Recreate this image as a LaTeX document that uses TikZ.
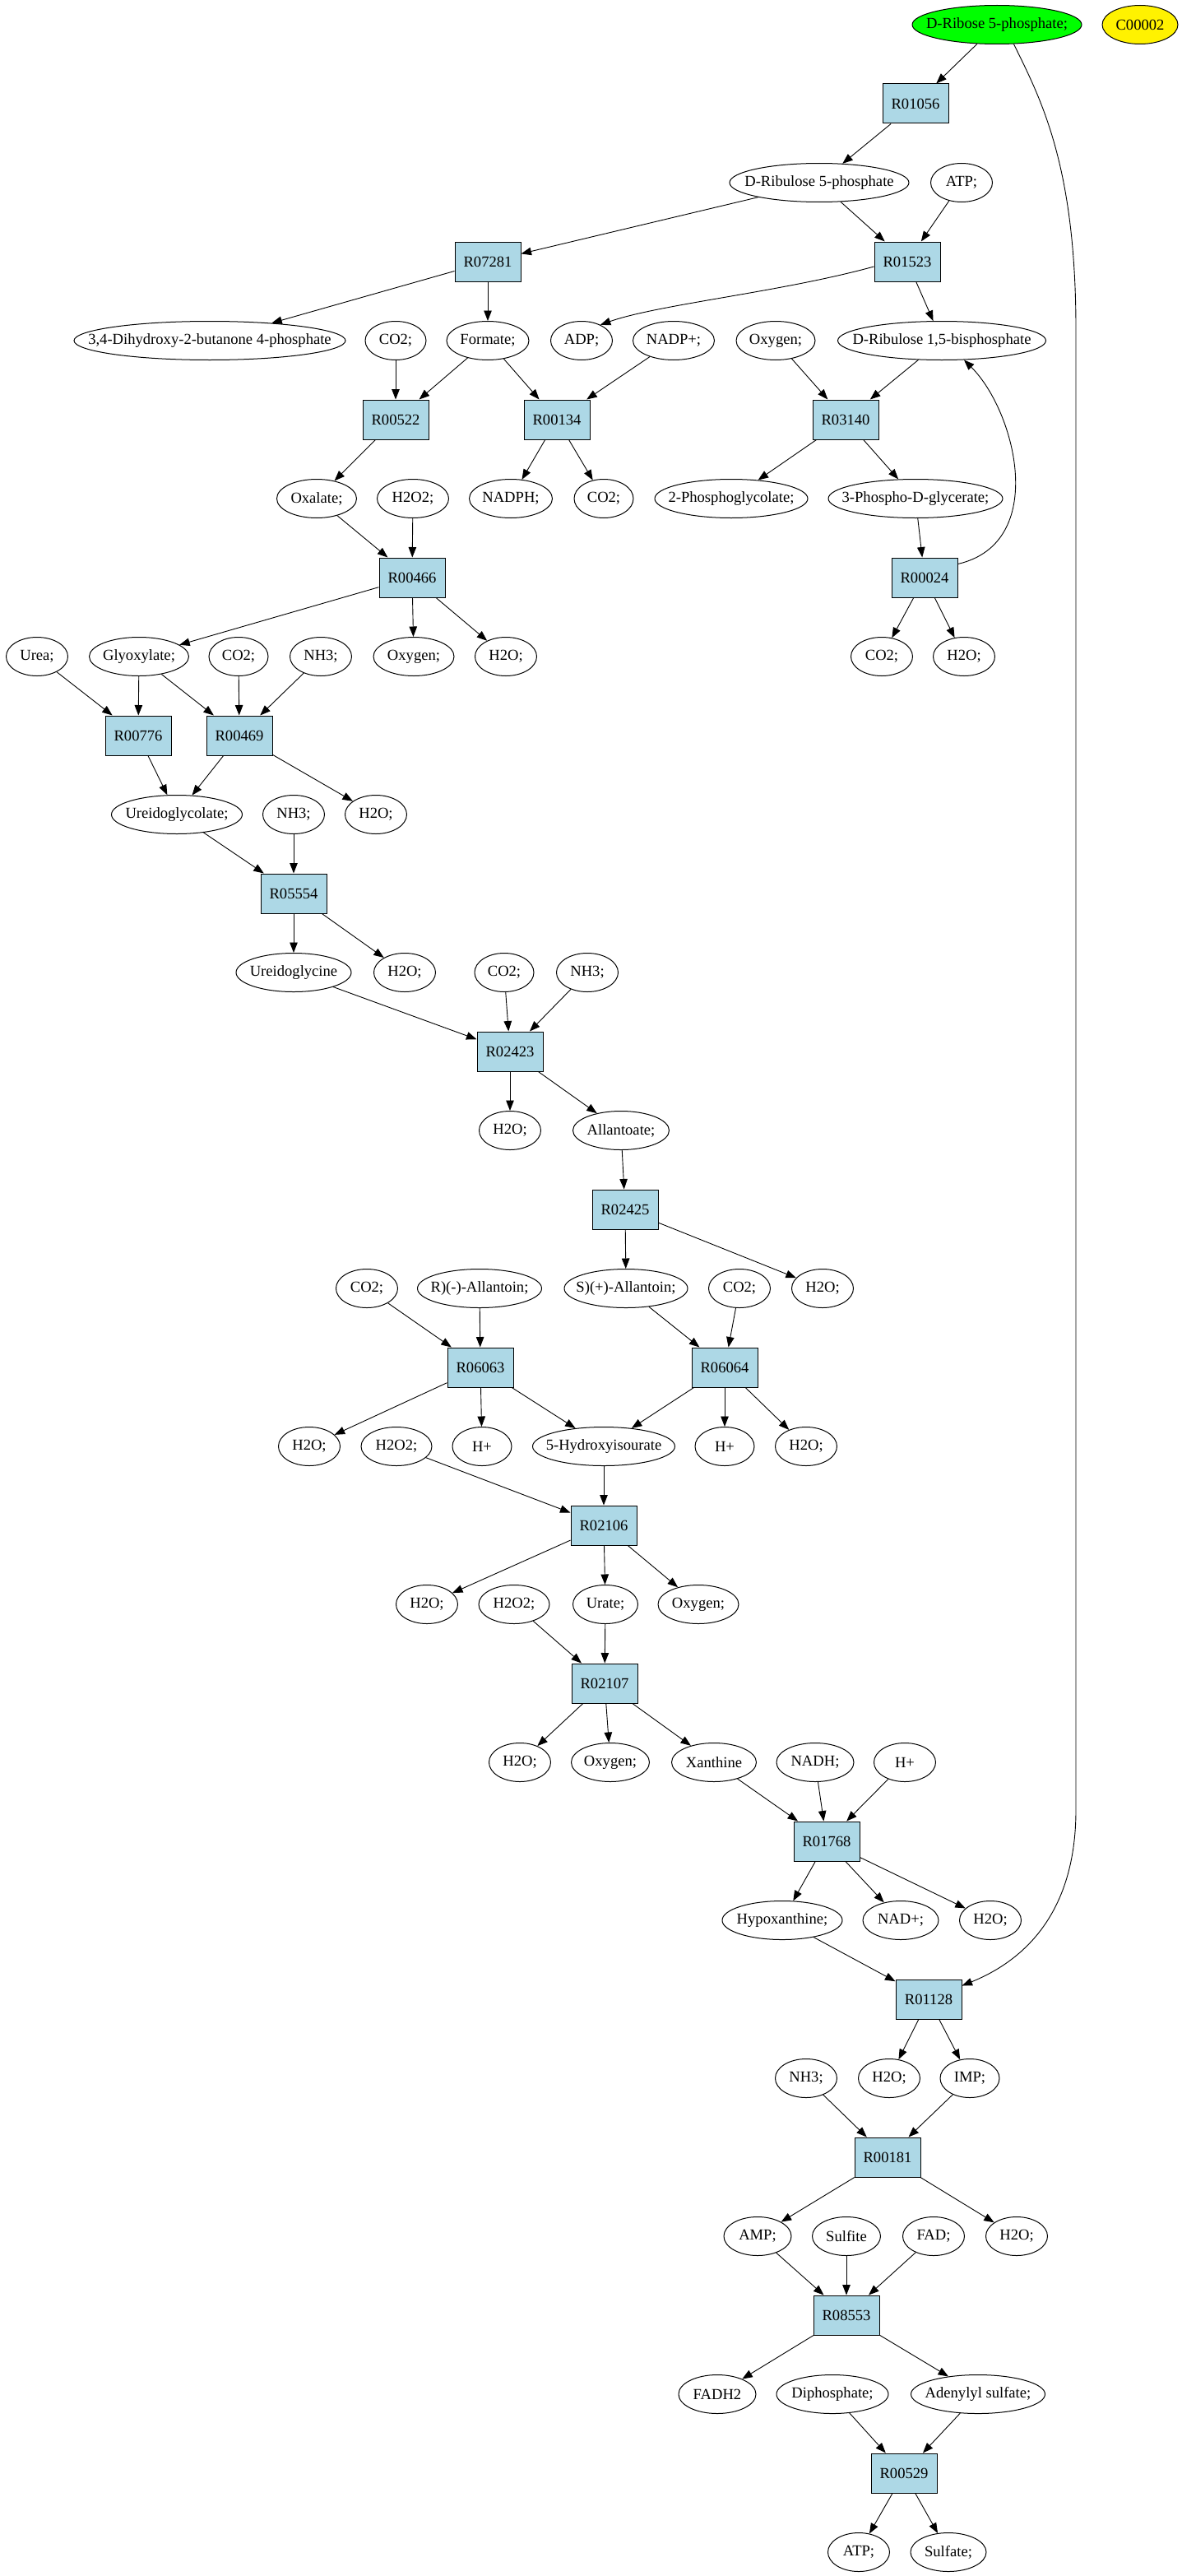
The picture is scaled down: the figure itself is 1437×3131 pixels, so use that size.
\documentclass[tikz,border=0pt]{standalone}
\usepackage{fontspec}
\setmainfont{Liberation Serif}
\usetikzlibrary{shapes.geometric,arrows.meta}
\definecolor{lightblue}{RGB}{173,216,230}
\begin{document}
\begin{tikzpicture}[x=1pt,y=-1pt,
 every node/.style={font=\fontsize{18.6}{22}\selectfont},
 met/.style={ellipse, draw=black, line width=1pt, inner sep=0pt, minimum height=47pt, minimum width=#1,
   execute at begin node={\hbox to 0pt\bgroup\hss}, execute at end node={\hss\egroup}},
 met/.default=75pt,
 rxn/.style={rectangle, draw=black, fill=lightblue, line width=1pt, minimum width=80pt, minimum height=48pt, inner sep=0pt},
 arr/.style={-{Triangle[length=12.5pt,width=9.5pt]}, line width=0.9pt}
]
\fill[white] (0,0) rectangle (1437,3131);
\useasboundingbox (0,0) rectangle (1437,3131);

\node[met=206pt, fill=green] (drib) at (1212,30) {D-Ribose 5-phosphate;};
\node[met=92pt, fill=yellow] (c2) at (1386,30) {C00002};
\node[rxn] (r01056) at (1113,126) {R01056};
\node[met=218pt] (dru5p) at (996,222) {D-Ribulose 5-phosphate};
\node[met] (atp1) at (1169,222) {ATP;};
\node[rxn] (r07281) at (593,318) {R07281};
\node[rxn] (r01523) at (1103,318) {R01523};
\node[met=330pt] (dhbp) at (255,414) {3,4-Dihydroxy-2-butanone 4-phosphate};
\node[met=74pt] (co2a) at (481,414) {CO2;};
\node[met=100pt] (form) at (593,414) {Formate;};
\node[met] (adp) at (707,414) {ADP;};
\node[met=99pt] (nadpp) at (819,414) {NADP+;};
\node[met=96pt] (oxy1) at (943,414) {Oxygen;};
\node[met=253pt] (drbp) at (1145,414) {D-Ribulose 1,5-bisphosphate};
\node[rxn] (r00522) at (481,510) {R00522};
\node[rxn] (r00134) at (677,510) {R00134};
\node[rxn] (r03140) at (1028,510) {R03140};
\node[met=97pt] (oxal) at (385,606) {Oxalate;};
\node[met=87pt] (h2o2a) at (502,606) {H2O2;};
\node[met=101pt] (nadph) at (621,606) {NADPH;};
\node[met=72pt] (co2b) at (734,606) {CO2;};
\node[met=186pt] (pglyc) at (889,606) {2-Phosphoglycolate;};
\node[met=212pt] (pgly) at (1113,606) {3-Phospho-D-glycerate;};
\node[rxn] (r00466) at (501,702) {R00466};
\node[rxn] (r00024) at (1124,702) {R00024};
\node[met] (urea) at (45,798) {Urea;};
\node[met=121pt] (glyox) at (169,798) {Glyoxylate;};
\node[met=72pt] (co2c) at (290,798) {CO2;};
\node[met] (nh3a) at (390,798) {NH3;};
\node[met=98pt] (oxy2) at (503,798) {Oxygen;};
\node[met] (h2oa) at (615,798) {H2O;};
\node[met] (co2d) at (1072,798) {CO2;};
\node[met] (h2ob) at (1172,798) {H2O;};
\node[rxn] (r00776) at (168,894) {R00776};
\node[rxn] (r00469) at (291,894) {R00469};
\node[met=159pt] (ugl) at (215,990) {Ureidoglycolate;};
\node[met] (nh3b) at (357,990) {NH3;};
\node[met] (h2oc) at (457,990) {H2O;};
\node[rxn] (r05554) at (357,1086) {R05554};
\node[met=140pt] (ugly) at (357,1182) {Ureidoglycine};
\node[met] (h2od) at (492,1182) {H2O;};
\node[met=72pt] (co2e) at (613,1182) {CO2;};
\node[met] (nh3c) at (714,1182) {NH3;};
\node[rxn] (r02423) at (620,1278) {R02423};
\node[met] (h2oe) at (620,1374) {H2O;};
\node[met=117pt] (allan) at (755,1374) {Allantoate;};
\node[rxn] (r02425) at (760,1470) {R02425};
\node[met] (co2f) at (446,1566) {CO2;};
\node[met=151pt] (rall) at (583,1566) {R)(-)-Allantoin;};
\node[met=150pt] (sall) at (761,1566) {S)(+)-Allantoin;};
\node[met] (co2g) at (899,1566) {CO2;};
\node[met] (h2of) at (1000,1566) {H2O;};
\node[rxn] (r06063) at (584,1662) {R06063};
\node[rxn] (r06064) at (881,1662) {R06064};
\node[met] (h2og) at (376,1758) {H2O;};
\node[met=86pt] (h2o2b) at (482,1758) {H2O2;};
\node[met=72pt] (hpa) at (586,1758) {H+};
\node[met=173pt] (hiu) at (734,1758) {5-Hydroxyisourate};
\node[met=72pt] (hpb) at (881,1758) {H+};
\node[met] (h2oh) at (980,1758) {H2O;};
\node[rxn] (r02106) at (734,1854) {R02106};
\node[met] (h2oi) at (519,1950) {H2O;};
\node[met=86pt] (h2o2c) at (625,1950) {H2O2;};
\node[met=79pt] (urate) at (736,1950) {Urate;};
\node[met=98pt] (oxy3) at (849,1950) {Oxygen;};
\node[rxn] (r02107) at (735,2046) {R02107};
\node[met] (h2oj) at (632,2142) {H2O;};
\node[met=95pt] (oxy4) at (742,2142) {Oxygen;};
\node[met=103pt] (xan) at (868,2142) {Xanthine};
\node[met=94pt] (nadh) at (991,2142) {NADH;};
\node[met] (hpc) at (1100,2142) {H+};
\node[rxn] (r01768) at (1005,2238) {R01768};
\node[met=146pt] (hypo) at (951,2334) {Hypoxanthine;};
\node[met=92pt] (nadp) at (1095,2334) {NAD+;};
\node[met] (h2ok) at (1204,2334) {H2O;};
\node[rxn] (r01128) at (1129,2430) {R01128};
\node[met] (nh3d) at (980,2526) {NH3;};
\node[met] (h2ol) at (1081,2526) {H2O;};
\node[met=72pt] (imp) at (1179,2526) {IMP;};
\node[rxn] (r00181) at (1079,2622) {R00181};
\node[met=82pt] (amp) at (921,2718) {AMP;};
\node[met=83pt] (sulfite) at (1029,2718) {Sulfite};
\node[met] (fad) at (1135,2718) {FAD;};
\node[met] (h2om) at (1236,2718) {H2O;};
\node[rxn] (r08553) at (1029,2814) {R08553};
\node[met=94pt] (fadh2) at (872,2910) {FADH2};
\node[met=136pt] (diph) at (1012,2910) {Diphosphate;};
\node[met=163pt] (adsu) at (1189,2910) {Adenylyl sulfate;};
\node[rxn] (r00529) at (1099,3006) {R00529};
\node[met] (atp2) at (1044,3102) {ATP;};
\node[met=92pt] (sulfate) at (1153,3102) {Sulfate;};

\foreach \a/\b in {drib/r01056, r01056/dru5p, dru5p/r07281, dru5p/r01523, atp1/r01523,
 r07281/dhbp, r07281/form, r01523/drbp, co2a/r00522, form/r00522, form/r00134, nadpp/r00134,
 oxy1/r03140, drbp/r03140, r00522/oxal, r00134/nadph, r00134/co2b, r03140/pglyc, r03140/pgly,
 pgly/r00024, oxal/r00466, h2o2a/r00466, r00466/glyox, r00466/oxy2, r00466/h2oa, r00024/co2d,
 r00024/h2ob, urea/r00776, glyox/r00776, glyox/r00469, co2c/r00469, nh3a/r00469, r00776/ugl,
 r00469/ugl, r00469/h2oc, ugl/r05554, nh3b/r05554, r05554/ugly, r05554/h2od, ugly/r02423,
 co2e/r02423, nh3c/r02423, r02423/h2oe, r02423/allan, allan/r02425, r02425/sall, r02425/h2of,
 co2f/r06063, rall/r06063, sall/r06064, co2g/r06064, r06063/h2og, r06063/hpa, r06063/hiu,
 r06064/hiu, r06064/hpb, r06064/h2oh, h2o2b/r02106, hiu/r02106, r02106/h2oi, r02106/urate,
 r02106/oxy3, h2o2c/r02107, urate/r02107, r02107/h2oj, r02107/oxy4, r02107/xan, xan/r01768,
 nadh/r01768, hpc/r01768, r01768/hypo, r01768/nadp, r01768/h2ok, hypo/r01128, r01128/h2ol,
 r01128/imp, nh3d/r00181, imp/r00181, r00181/amp, r00181/h2om, amp/r08553, sulfite/r08553,
 fad/r08553, r08553/fadh2, r08553/adsu, diph/r00529, adsu/r00529, r00529/atp2, r00529/sulfate}
 \draw[arr] (\a) -- (\b);

\draw[arr] ([yshift=-6pt]r01523.west) .. controls (950,355) and (800,370) .. (adp.40);
\draw[arr] ([yshift=-8pt]r00024.north east) .. controls (1275,660) and (1235,500) .. (drbp.-41);
\coordinate (v1) at (1308,400);
\coordinate (v2) at (1308,2200);
\draw[arr] (drib.-49) .. controls (1265,120) and (1308,200) .. (v1) -- (v2)
  .. controls (1308,2330) and (1240,2385) .. ([yshift=-8pt]r01128.north east);
\end{tikzpicture}
\end{document}
